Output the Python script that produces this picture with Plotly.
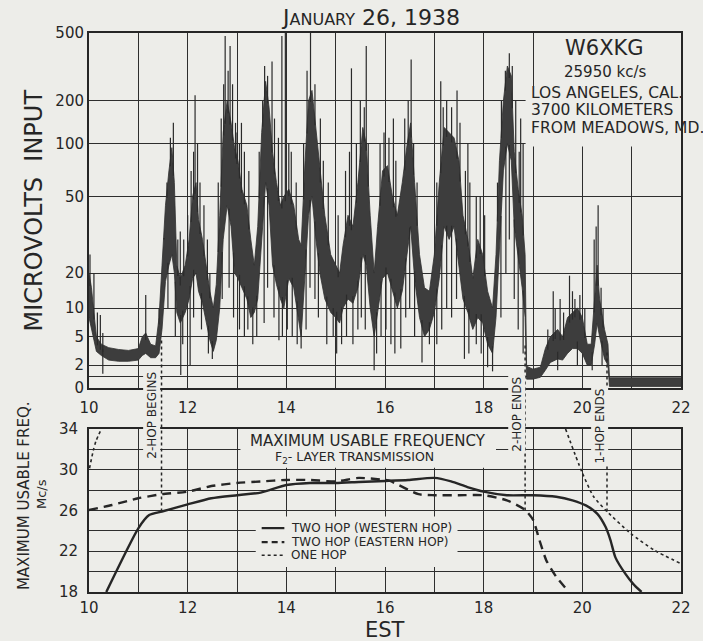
import numpy as np
import plotly.graph_objects as go

BG = "#edede9"
INK = "#262626"
FONT = "DejaVu Sans"

# ---------------- data: top panel (hours EST, microvolts) ----------------
sig_hours = [10.00, 10.05, 10.10, 10.15, 10.25, 10.40, 10.60, 10.80, 11.00, 11.08, 11.15, 11.25, 11.35,
             11.42, 11.48, 11.55, 11.62, 11.68, 11.73, 11.78, 11.85, 11.95, 12.03, 12.10, 12.17, 12.22,
             12.30, 12.38, 12.45, 12.52, 12.58, 12.65, 12.72, 12.80, 12.88, 12.95, 13.02, 13.10, 13.20,
             13.28, 13.35, 13.42, 13.50, 13.58, 13.65, 13.72, 13.80, 13.88, 13.95, 14.05, 14.15, 14.25,
             14.30, 14.38, 14.45, 14.52, 14.60, 14.68, 14.78, 14.90, 15.00, 15.08, 15.15, 15.25, 15.35,
             15.45, 15.55, 15.62, 15.70, 15.78, 15.85, 15.95, 16.05, 16.15, 16.25, 16.35, 16.45, 16.52,
             16.60, 16.70, 16.80, 16.90, 17.00, 17.10, 17.20, 17.30, 17.40, 17.50, 17.58, 17.68, 17.78,
             17.88, 17.98, 18.08, 18.18, 18.25, 18.32, 18.40, 18.48, 18.56, 18.62, 18.70, 18.78, 18.84,
             18.87, 19.00, 19.15, 19.25, 19.35, 19.50, 19.60, 19.70, 19.80, 19.90, 20.00, 20.10, 20.18,
             20.25, 20.30, 20.35, 20.45, 20.52, 20.55, 21.00, 21.50, 22.00]
sig_high = [20, 15, 9, 5, 4, 3.6, 3.4, 3.3, 3.5, 5, 5.5, 4, 3.8,
            8, 22, 45, 70, 95, 60, 22, 18, 22, 30, 50, 60, 38,
            30, 22, 14, 10, 16, 40, 120, 200, 140, 95, 80, 55, 45,
            30, 22, 35, 120, 260, 180, 90, 60, 45, 50, 55, 45, 30,
            28, 80, 200, 230, 130, 70, 40, 25, 22, 20, 28, 40, 35,
            60, 130, 100, 40, 20, 35, 70, 75, 50, 40, 60, 100, 140,
            60, 25, 15, 14, 25, 60, 130, 120, 110, 80, 40, 30, 18,
            30, 25, 14, 10, 25, 80, 200, 320, 280, 90, 55, 40, 25,
            1.9, 1.6, 1.8, 3.5, 5, 6, 5, 8, 9, 10, 8, 4, 4,
            12, 22, 12, 6, 4, 0.85, 0.85, 0.85, 0.85]
sig_low = [8, 6, 4.5, 3.2, 2.8, 2.4, 2.3, 2.3, 2.4, 2.8, 3, 2.6, 2.6,
           3, 6, 17, 22, 25, 20, 9, 7, 9, 12, 18, 20, 14,
           11, 7, 4.5, 3.2, 4.5, 10, 30, 45, 35, 20, 18, 15, 12,
           8, 9, 12, 30, 60, 45, 22, 16, 12, 10, 18, 15, 8,
           5, 20, 40, 50, 30, 20, 12, 9, 8, 7, 10, 12, 11,
           15, 25, 22, 10, 5, 9, 18, 20, 14, 10, 14, 25, 35,
           18, 8, 5, 6, 9, 18, 35, 30, 35, 22, 12, 9, 6,
           8, 7, 4, 3, 8, 25, 70, 100, 80, 35, 25, 15, 8,
           0.7, 0.7, 0.9, 1.5, 2.2, 2.5, 2.4, 3, 3.5, 3.5, 3, 2, 2,
           4, 7, 5, 2.5, 2, 0.1, 0.1, 0.1, 0.1]

spike_up_hours = [10.02, 10.10, 10.17, 10.23, 10.28, 11.15, 11.42, 11.71, 11.85, 12.15, 12.20, 12.45,
                  12.76, 12.86, 12.97, 13.09, 13.56, 13.71, 13.91, 13.98, 14.05, 14.49, 14.69, 15.32,
                  15.62, 15.90, 16.17, 16.53, 17.13, 17.46, 17.68, 17.85, 18.52, 18.75, 18.80, 19.41,
                  19.55, 19.74, 19.80, 20.24, 20.32, 20.42,
                  11.52, 11.58, 11.65, 11.80, 11.92, 12.00, 12.07, 12.12, 12.25, 12.33, 12.40, 12.62,
                  12.68, 12.73, 12.82, 12.91, 13.00, 13.05, 13.15, 13.24, 13.45, 13.52, 13.62, 13.76,
                  13.84, 14.10, 14.20, 14.35, 14.42, 14.58, 14.75, 14.85, 15.05, 15.20, 15.28, 15.42,
                  15.50, 15.58, 15.66, 15.98, 16.08, 16.22, 16.40, 16.47, 16.58, 16.65, 17.05, 17.18,
                  17.25, 17.35, 17.52, 17.63, 17.72, 17.93, 18.02, 18.28, 18.36, 18.44, 18.58, 18.65,
                  18.72, 19.30, 19.45, 19.62, 19.85, 19.95, 20.05, 20.28, 20.38]
spike_up_values = [25, 20, 9, 8.5, 5.5, 13, 10, 140, 33, 215, 100, 20,
                   480, 420, 140, 140, 320, 340, 480, 500, 100, 520, 150, 310,
                   420, 100, 150, 350, 260, 230, 100, 50, 380, 150, 100, 14,
                   12, 19, 14, 30, 45, 10,
                   30, 60, 110, 30, 30, 40, 70, 90, 60, 45, 30, 60,
                   150, 250, 300, 250, 120, 100, 90, 70, 90, 200, 280, 150,
                   110, 90, 60, 100, 300, 250, 80, 60, 40, 70, 90, 100,
                   200, 180, 100, 120, 110, 80, 150, 200, 100, 60, 60, 180,
                   200, 180, 140, 70, 60, 50, 40, 60, 200, 300, 320, 200,
                   90, 6, 10, 9, 12, 13, 10, 35, 15]
spike_down_hours = [10.28, 11.86, 12.05, 12.50, 13.32, 13.55, 13.85, 14.30, 14.40, 14.95, 15.35, 15.78,
                    15.83, 16.32, 16.75, 16.90, 17.61, 17.85, 18.08, 18.18, 18.70,
                    11.60, 11.75, 11.90, 12.12, 12.28, 12.42, 12.70, 12.84, 12.93, 13.05, 13.15, 13.22,
                    13.40, 13.62, 13.75, 13.92, 14.02, 14.12, 14.22, 14.48, 14.58, 14.65, 14.82, 15.02,
                    15.12, 15.22, 15.45, 15.52, 15.60, 15.92, 16.02, 16.12, 16.20, 16.42, 16.50, 16.60,
                    17.05, 17.15, 17.25, 17.35, 17.45, 17.70, 17.95, 18.35, 18.45, 18.52, 18.62, 18.80,
                    19.50, 19.90, 20.20, 20.40]
spike_down_values = [1.2, 1.1, 2, 2.5, 4, 7, 4.5, 3.5, 6, 5, 4, 1.5,
                     3, 3.5, 2.2, 4, 2.5, 4, 1.8, 1.4, 6,
                     10, 5, 4, 8, 6, 3, 12, 15, 8, 6, 5, 6,
                     5, 15, 8, 5, 6, 5, 4, 15, 12, 8, 4, 3,
                     4, 5, 6, 8, 6, 5, 6, 4, 3, 8, 10, 5,
                     4, 6, 10, 8, 12, 3, 3, 8, 20, 30, 12, 3,
                     1.5, 2, 1.5, 2]

# receiver calibration of the top axis (tick values and relative chart height 0..100)
scale_values = [0, 1, 2, 5, 10, 20, 50, 100, 200, 500]
scale_heights = [0, 3.27, 6.42, 14.45, 22.54, 32.39, 53.97, 68.82, 80.93, 100]
scale_labels = ["0", "", "2", "5", "10", "20", "50", "100", "200", "500"]

hour_ticks = list(range(10, 23))
hour_labels = [str(h) if h % 2 == 0 else "" for h in hour_ticks]

# ---------------- data: bottom panel (MUF, Mc/s) ----------------
west_hours = [10.35, 11.0, 11.22, 11.48, 12.0, 12.48, 13.0, 13.48, 14.0, 14.48, 15.0, 15.47, 16.0,
              16.47, 17.0, 17.34, 17.67, 18.0, 18.47, 19.0, 19.47, 19.8, 20.07, 20.3, 20.47, 20.57,
              20.67, 20.87, 21.03, 21.2]
west_muf = [18, 24.25, 25.55, 25.9, 26.6, 27.2, 27.5, 27.75, 28.5, 28.7, 28.7, 28.8, 28.9,
            29.0, 29.2, 28.85, 28.3, 27.85, 27.5, 27.5, 27.35, 27.0, 26.5, 25.7, 24.4, 23.1,
            21.4, 19.8, 18.8, 18.0]
east_hours = [10.0, 10.47, 11.0, 11.48, 12.0, 12.48, 13.0, 13.48, 14.0, 14.48, 15.0, 15.47, 16.0,
              16.1, 16.68, 17.0, 17.5, 18.0, 18.47, 18.84, 19.0, 19.13, 19.27, 19.47, 19.73]
east_muf = [26.05, 26.54, 27.2, 27.6, 27.85, 28.4, 28.7, 28.85, 29.0, 29.0, 28.85, 29.2, 29.0,
            28.9, 27.6, 27.5, 27.5, 27.5, 27.0, 26.05, 25.1, 23.1, 21.1, 19.5, 18.0]
one_hours = [10.01, 10.09, 10.14, 10.25, None, 19.66, 19.99, 20.23, 20.5, 20.98, 21.46, 21.99]
one_muf = [30.15, 31.95, 32.8, 34.0, None, 34.0, 29.8, 27.35, 25.9, 23.75, 22.1, 20.8]

muf_ticks = list(range(18, 35, 2))
muf_labels = [str(v) if (v - 18) % 4 == 0 else "" for v in muf_ticks]

# hop events (label, hour, MUF where the marker line ends, top-panel height where it starts)
hop_events = [("2-HOP BEGINS", 11.47, 25.9, 13.5),
              ("2-HOP ENDS", 18.84, 26.0, 12.0),
              ("1-HOP ENDS", 20.5, 25.9, 10.5)]


def to_scale(v):
    v = np.asarray(v, dtype=float)
    return np.interp(np.log10(v + 1), np.log10(np.array(scale_values, float) + 1), scale_heights)


TOP_DOM = [0.3649, 1.0]
BOT_DOM = [0.0, 0.2916]


def paper_bottom(v):
    return BOT_DOM[1] * (v - 18) / 16.0


def paper_top(u):
    return TOP_DOM[0] + (TOP_DOM[1] - TOP_DOM[0]) * u / 100.0


fig = go.Figure()

# band of the recorded signal
lo_u = to_scale(sig_low)
hi_u = to_scale(sig_high)
fig.add_trace(go.Scatter(x=sig_hours, y=lo_u, mode="lines", line=dict(color="#303030", width=0.8),
                         xaxis="x", yaxis="y", showlegend=False, hoverinfo="skip"))
fig.add_trace(go.Scatter(x=sig_hours, y=hi_u, mode="lines", line=dict(color="#303030", width=0.8),
                         fill="tonexty", fillcolor="#3d3d3d",
                         xaxis="x", yaxis="y", showlegend=False, hoverinfo="skip"))

sx, sy = [], []
for h, v in zip(spike_up_hours, spike_up_values):
    base = np.interp(h, sig_hours, hi_u)
    sx += [h, h, None]
    sy += [float(to_scale(v)), float(base) - 2, None]
for h, v in zip(spike_down_hours, spike_down_values):
    base = np.interp(h, sig_hours, lo_u)
    sx += [h, h, None]
    sy += [float(to_scale(v)), float(base) + 2, None]
fig.add_trace(go.Scatter(x=sx, y=sy, mode="lines", line=dict(color="#2a2a2a", width=1.2),
                         xaxis="x", yaxis="y", showlegend=False, hoverinfo="skip"))

# MUF curves
fig.add_trace(go.Scatter(x=west_hours, y=west_muf, mode="lines",
                         line=dict(color=INK, width=2.4, shape="spline", smoothing=0.6),
                         xaxis="x2", yaxis="y2", showlegend=False))
fig.add_trace(go.Scatter(x=east_hours, y=east_muf, mode="lines",
                         line=dict(color=INK, width=2.4, dash="9px,6px", shape="spline", smoothing=0.6),
                         xaxis="x2", yaxis="y2", showlegend=False))
fig.add_trace(go.Scatter(x=one_hours, y=one_muf, mode="lines", connectgaps=False,
                         line=dict(color=INK, width=1.6, dash="dot", shape="spline", smoothing=0.6),
                         xaxis="x2", yaxis="y2", showlegend=False))

axis_common = dict(showline=True, mirror=True, linecolor=INK, linewidth=2, showgrid=True,
                   gridcolor="#2e2e2e", gridwidth=1.4, zeroline=False,
                   tickfont=dict(family=FONT, size=15, color=INK))

fig.update_layout(
    width=703, height=641, paper_bgcolor=BG, plot_bgcolor=BG,
    margin=dict(l=89, r=12, t=33, b=49),
    xaxis=dict(domain=[0, 1], anchor="y", range=[10, 22], tickmode="array", tickvals=hour_ticks,
               ticktext=hour_labels, ticks="outside", ticklen=5, tickcolor=BG, **axis_common),
    yaxis=dict(domain=TOP_DOM, anchor="x", range=[0, 100], tickmode="array",
               tickvals=list(to_scale(scale_values)), ticktext=scale_labels, ticks="", **axis_common),
    xaxis2=dict(domain=[0, 1], anchor="y2", range=[10, 22], tickmode="array", tickvals=hour_ticks,
                ticktext=hour_labels, ticks="outside", ticklen=1, tickcolor=BG, **axis_common),
    yaxis2=dict(domain=BOT_DOM, anchor="x2", range=[18, 34], tickmode="array", tickvals=muf_ticks,
                ticktext=muf_labels, ticks="outside", ticklen=6, tickcolor=BG, **axis_common),
)

shapes = []
box = dict(type="rect", fillcolor=BG, line=dict(width=0), layer="between")
# station text box (top right)
shapes.append(dict(box, xref="x", yref="y", x0=18.85, x1=22, y0=68.0, y1=85.0))
shapes.append(dict(box, xref="x", yref="y", x0=19.05, x1=22, y0=84.9, y1=100))
# MUF title box and legend box
shapes.append(dict(box, xref="x2", yref="y2", x0=13.07, x1=18.25, y0=30.2, y1=34))
shapes.append(dict(box, xref="x2", yref="y2", x0=13.38, x1=17.47, y0=20.45, y1=25.4))
# hop marker lines
for name, h, muf, u in hop_events:
    shapes.append(dict(type="line", xref="x", yref="paper", x0=h, x1=h,
                       y0=paper_bottom(muf), y1=paper_top(u),
                       line=dict(color=INK, width=1.5, dash="dot"), layer="above"))
# legend samples
leg_y = [24.27, 22.9, 21.6]
leg_dash = ["solid", "6px,4px", "dot"]
leg_w = [2.2, 2.2, 1.5]
for yv, d, w in zip(leg_y, leg_dash, leg_w):
    shapes.append(dict(type="line", xref="x2", yref="y2", x0=13.5, x1=13.96, y0=yv, y1=yv,
                       line=dict(color=INK, width=w, dash=d), layer="above"))
fig.update_layout(shapes=shapes)

ann = []


def text(s, x, y, size, xref="paper", yref="paper", angle=0, xanchor="center", bg=None, **kw):
    d = dict(text=s, x=x, y=y, xref=xref, yref=yref, showarrow=False, textangle=angle,
             xanchor=xanchor, yanchor="middle", font=dict(family=FONT, size=size, color=INK))
    if bg:
        d.update(bgcolor=bg, borderpad=1)
    d.update(kw)
    ann.append(d)


text("J<span style='font-size:16px'>ANUARY</span> 26, 1938", 0.475, 1.0286, 22)
text("W6XKG", 20.44, 95.9, 21, xref="x", yref="y")
text("25950 kc/s", 20.46, 88.9, 15, xref="x", yref="y")
text("LOS ANGELES, CAL.", 18.92, 83.1, 15.5, xref="x", yref="y", xanchor="left")
text("3700 KILOMETERS", 18.92, 78.4, 15.5, xref="x", yref="y", xanchor="left")
text("FROM MEADOWS, MD.", 18.92, 73.2, 15.5, xref="x", yref="y", xanchor="left")
text("MICROVOLTS  INPUT", -0.093, 50, 24, yref="y", angle=-90)
text("MAXIMUM USABLE FREQ.", -0.11, 27.5, 15, yref="y2", angle=-90)
text("Mc/s", -0.0814, 27.6, 13, yref="y2", angle=-90)
text("EST", 0.5, -0.068, 21)
text("MAXIMUM USABLE FREQUENCY", 15.66, 32.78, 15, xref="x2", yref="y2")
text("F<sub>2</sub>- LAYER TRANSMISSION", 15.38, 31.17, 12.5, xref="x2", yref="y2")
leg_names = ["TWO HOP (WESTERN HOP)", "TWO HOP (EASTERN HOP)", "ONE HOP"]
for nm, yv in zip(leg_names, leg_y):
    text(nm, 14.06, yv, 12, xref="x2", yref="y2", xanchor="left")
hop_pos = [(11.27, 0.3166), (18.67, 0.3184), (20.35, 0.297)]
for (name, h, muf, u), (ax, ay) in zip(hop_events, hop_pos):
    text(name, ax, ay, 12, xref="x", angle=-90, bg=BG)
fig.update_layout(annotations=ann)

fig.write_html("out.html", config={"displayModeBar": False},
               post_script="document.body.style.margin='0';")
